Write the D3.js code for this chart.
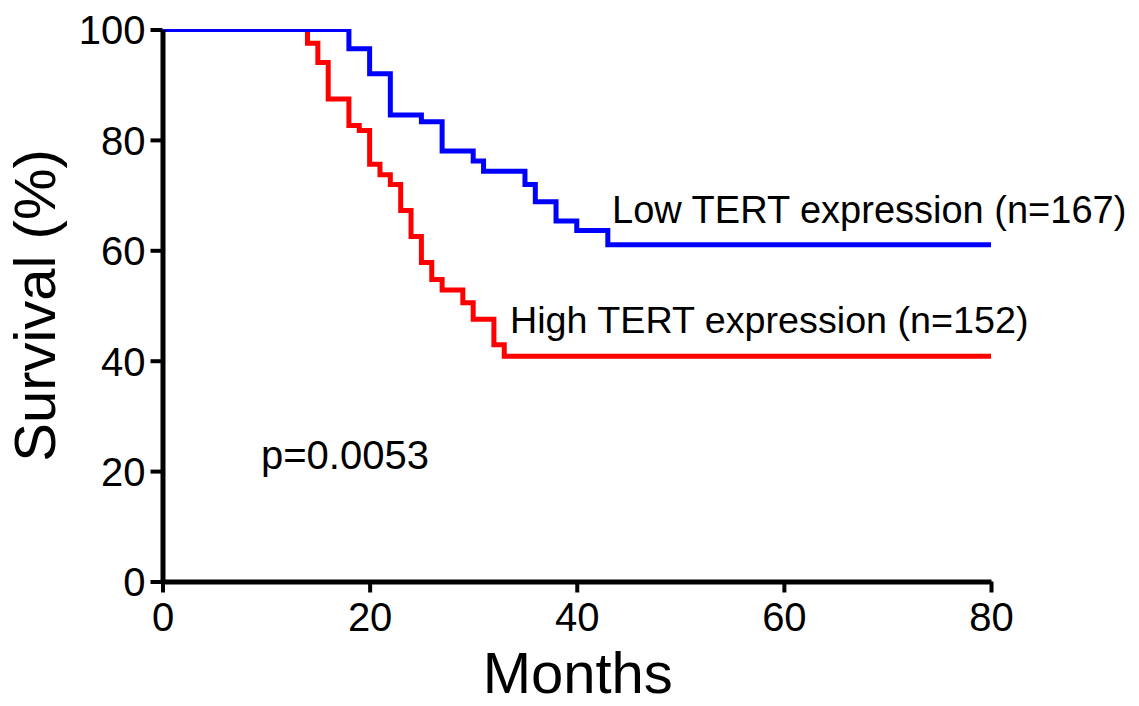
<!DOCTYPE html>
<html>
<head>
<meta charset="utf-8">
<script src="https://cdn.jsdelivr.net/npm/d3@7"></script>
<style>
  body { margin: 0; background: #fff; }
  text { font-family: "Liberation Sans", Arial, sans-serif; fill: #000; }
</style>
</head>
<body>
<div id="chart"></div>
<script>
// Kaplan-Meier steps (months, survival %)
const highTimes = [0, 14, 15, 16, 18, 19, 20, 21, 22, 23, 24, 25, 26, 27, 29, 30, 32, 33, 80];
const highSurv  = [100, 97.5, 94, 87.4, 82.6, 81.7, 75.6, 73.7, 71.9, 67.2, 62.5, 57.8, 54.7, 52.8, 50.5, 47.5, 42.9, 40.8, 40.8];
const lowTimes  = [0, 18, 20, 22, 25, 27, 30, 31, 35, 36, 38, 40, 43, 80];
const lowSurv   = [100, 96.5, 92, 84.5, 83.3, 78, 76.2, 74.3, 71.9, 68.8, 65.3, 63.6, 61, 61];
const xTicks = [0, 20, 40, 60, 80];
const yTicks = [0, 20, 40, 60, 80, 100];
const lowLabel = "Low TERT expression (n=167)";
const highLabel = "High TERT expression (n=152)";
const pLabel = "p=0.0053";

const W = 1139, H = 706;
const margin = { top: 29.5, right: 148, bottom: 124.5, left: 162.5 };
const width = W - margin.left - margin.right;
const height = H - margin.top - margin.bottom;

const svg = d3.select("#chart").append("svg")
  .attr("width", W).attr("height", H);

const g = svg.append("g")
  .attr("transform", `translate(${margin.left},${margin.top})`);

const x = d3.scaleLinear().domain([0, 80]).range([0, width]);
const y = d3.scaleLinear().domain([0, 100]).range([height, 0]);

// clip so the top of the curves is cut at 100%
g.append("clipPath").attr("id", "clip")
  .append("rect").attr("x", 0).attr("y", -0.5).attr("width", width + 5).attr("height", height + 5);

const line = d3.line()
  .x(d => x(d[0]))
  .y(d => y(d[1]))
  .curve(d3.curveStepAfter);

const series = [
  { t: highTimes, s: highSurv, color: "#ff0000" },
  { t: lowTimes, s: lowSurv, color: "#0000ff" }
];

g.selectAll(".km")
  .data(series)
  .enter()
  .append("path")
  .attr("class", "km")
  .attr("clip-path", "url(#clip)")
  .attr("d", d => line(d.t.map((t, i) => [t, d.s[i]])))
  .attr("fill", "none")
  .attr("stroke", d => d.color)
  .attr("stroke-width", 5);

// axes
const xAxis = g.append("g")
  .attr("transform", `translate(0,${height})`)
  .call(d3.axisBottom(x).tickValues(xTicks).tickSize(11).tickSizeOuter(0).tickPadding(10));
const yAxis = g.append("g")
  .call(d3.axisLeft(y).tickValues(yTicks).tickSize(12).tickSizeOuter(0).tickPadding(5));

[xAxis, yAxis].forEach(a => {
  a.select(".domain").attr("stroke", "#000").attr("stroke-width", 5);
  a.selectAll(".tick line").attr("stroke", "#000").attr("stroke-width", 4);
  a.selectAll(".tick text").style("font-size", "40px").attr("fill", "#000");
  a.attr("font-family", null).attr("font-size", null);
});
yAxis.selectAll(".tick text").attr("dy", "0.36em");

// axis titles
svg.append("text")
  .attr("x", (margin.left + margin.left + width) / 2 + 1)
  .attr("y", 693)
  .attr("text-anchor", "middle")
  .style("font-size", "58px")
  .text("Months");

svg.append("text")
  .attr("transform", `translate(55,${margin.top + height / 2}) rotate(-90)`)
  .attr("text-anchor", "middle")
  .style("font-size", "58px")
  .text("Survival (%)");

// annotations
svg.append("text").attr("x", 612).attr("y", 223)
  .style("font-size", "38px").text(lowLabel);
svg.append("text").attr("x", 510).attr("y", 333)
  .style("font-size", "37.7px").text(highLabel);
svg.append("text").attr("x", 261).attr("y", 469)
  .style("font-size", "40px").text(pLabel);
</script>
</body>
</html>
